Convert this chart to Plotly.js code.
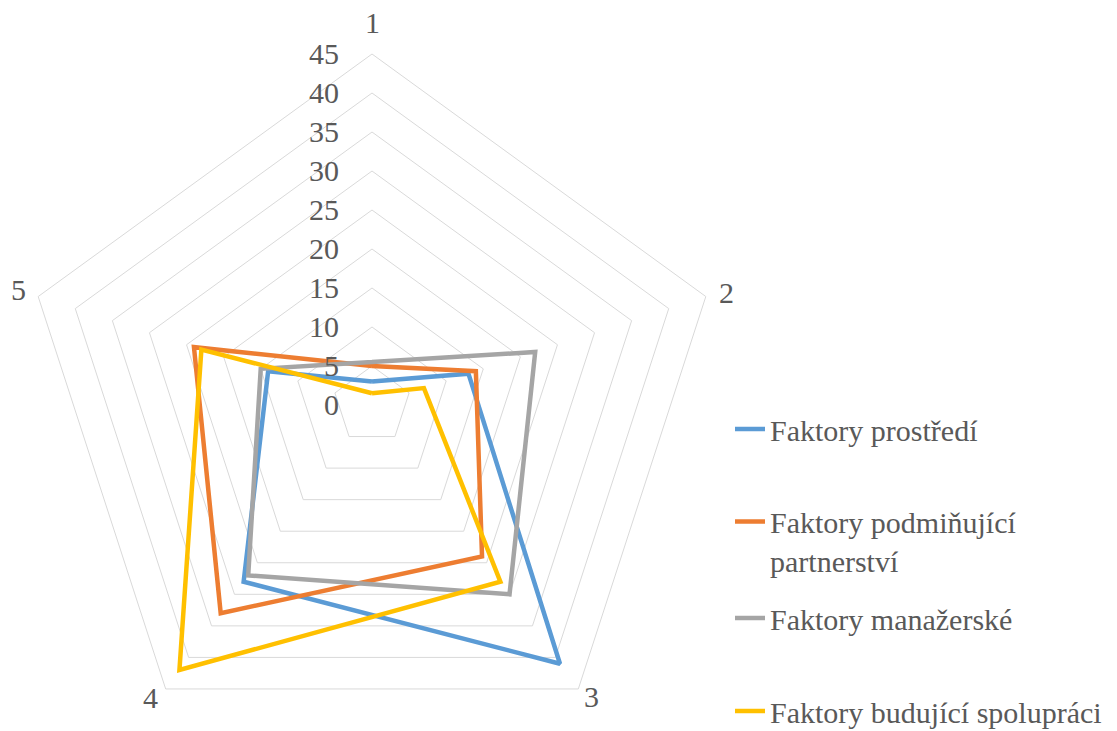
<!DOCTYPE html>
<html>
<head>
<meta charset="utf-8">
<script src="https://cdn.plot.ly/plotly-3.0.1.min.js"></script>
<style>
  html, body { margin: 0; padding: 0; overflow: hidden; background: #ffffff; }
  #chart { width: 1117px; height: 780px; }
  #chart svg text { font-family: "Liberation Serif", "Times New Roman", "DejaVu Serif", serif !important; }
</style>
</head>
<body>
<div id="chart"></div>
<script>
// Axis categories of the radar
const axes = ["1", "2", "3", "4", "5"];

// Series names and values (one value per axis)
const names = [
  "Faktory prostředí",
  "Faktory podmiňující<br>partnerství",
  "Faktory manažerské",
  "Faktory budující spolupráci"
];
const prostredi = [3, 13, 41, 28, 14];
const podminujici = [5, 14, 24, 33, 24];
const manazerske = [5.5, 22, 30, 27, 15];
const budujici = [1.5, 7, 28, 42, 23];

const radialTicks = [0, 5, 10, 15, 20, 25, 30, 35, 40, 45];

const colors = ["#5B9BD5", "#ED7D31", "#A5A5A5", "#FFC000"];
const seriesValues = [prostredi, podminujici, manazerske, budujici];

const W = 1117, H = 780;
const textFont = {
  family: "Liberation Serif, Times New Roman, serif",
  size: 30, color: "#595959"
};

// Radar polygon: center (372, 405), outer radius 351 px
const cx = 372, cy = 405, R = 351;

const traces = seriesValues.map((vals, i) => ({
  type: "scatterpolar",
  mode: "lines",
  r: vals.concat([vals[0]]),
  theta: axes.concat([axes[0]]),
  name: names[i],
  line: { color: colors[i], width: 4.5 },
  legend: i === 0 ? "legend" : "legend" + (i + 1),
  hoverinfo: "skip"
}));

// Category labels set just outside each outer vertex (pixel nudges per label)
const labelNudge = [[0, -32], [21, -4], [13, 8], [-15, 9], [-20, -7]];
const annotations = axes.map((lab, k) => {
  const a = (90 - 72 * k) * Math.PI / 180;
  const px = cx + R * Math.cos(a) + labelNudge[k][0];
  const py = cy - R * Math.sin(a) + labelNudge[k][1];
  return {
    text: lab, xref: "paper", yref: "paper",
    x: px / W, y: 1 - py / H,
    xanchor: "center", yanchor: "middle",
    showarrow: false, font: textFont
  };
});

// One legend per series so each entry sits at its own height
const legendCenters = [429, 541, 618, 711];
const legendBase = {
  x: 730 / W, xanchor: "left", yanchor: "middle",
  font: textFont, bgcolor: "rgba(0,0,0,0)", borderwidth: 0,
  valign: "top", itemclick: false, itemdoubleclick: false
};
const layout = {
  width: W, height: H,
  margin: { l: 0, r: 0, t: 0, b: 0 },
  paper_bgcolor: "#ffffff",
  font: textFont,
  showlegend: true,
  annotations: annotations,
  polar: {
    domain: {
      x: [(cx - R) / W, (cx + R) / W],
      y: [1 - (cy + R) / H, 1 - (cy - R) / H]
    },
    bgcolor: "#ffffff",
    gridshape: "linear",
    angularaxis: {
      type: "category",
      categoryarray: axes,
      rotation: 90,
      direction: "clockwise",
      showgrid: false,
      showline: true,
      linecolor: "#d9d9d9",
      linewidth: 1,
      ticks: "",
      showticklabels: false
    },
    radialaxis: {
      range: [0, 45],
      tickvals: radialTicks,
      ticktext: radialTicks.map(String),
      angle: 90,
      side: "counterclockwise",
      showline: false,
      showgrid: true,
      gridcolor: "#d9d9d9",
      gridwidth: 1,
      ticks: "outside",
      ticklen: 22,
      tickcolor: "rgba(0,0,0,0)",
      tickfont: textFont,
      tickangle: 90
    }
  }
};
legendCenters.forEach((py, i) => {
  const key = i === 0 ? "legend" : "legend" + (i + 1);
  layout[key] = Object.assign({}, legendBase, { y: 1 - py / H });
});

Plotly.newPlot("chart", traces, layout, { displayModeBar: false, staticPlot: true });
</script>
</body>
</html>
